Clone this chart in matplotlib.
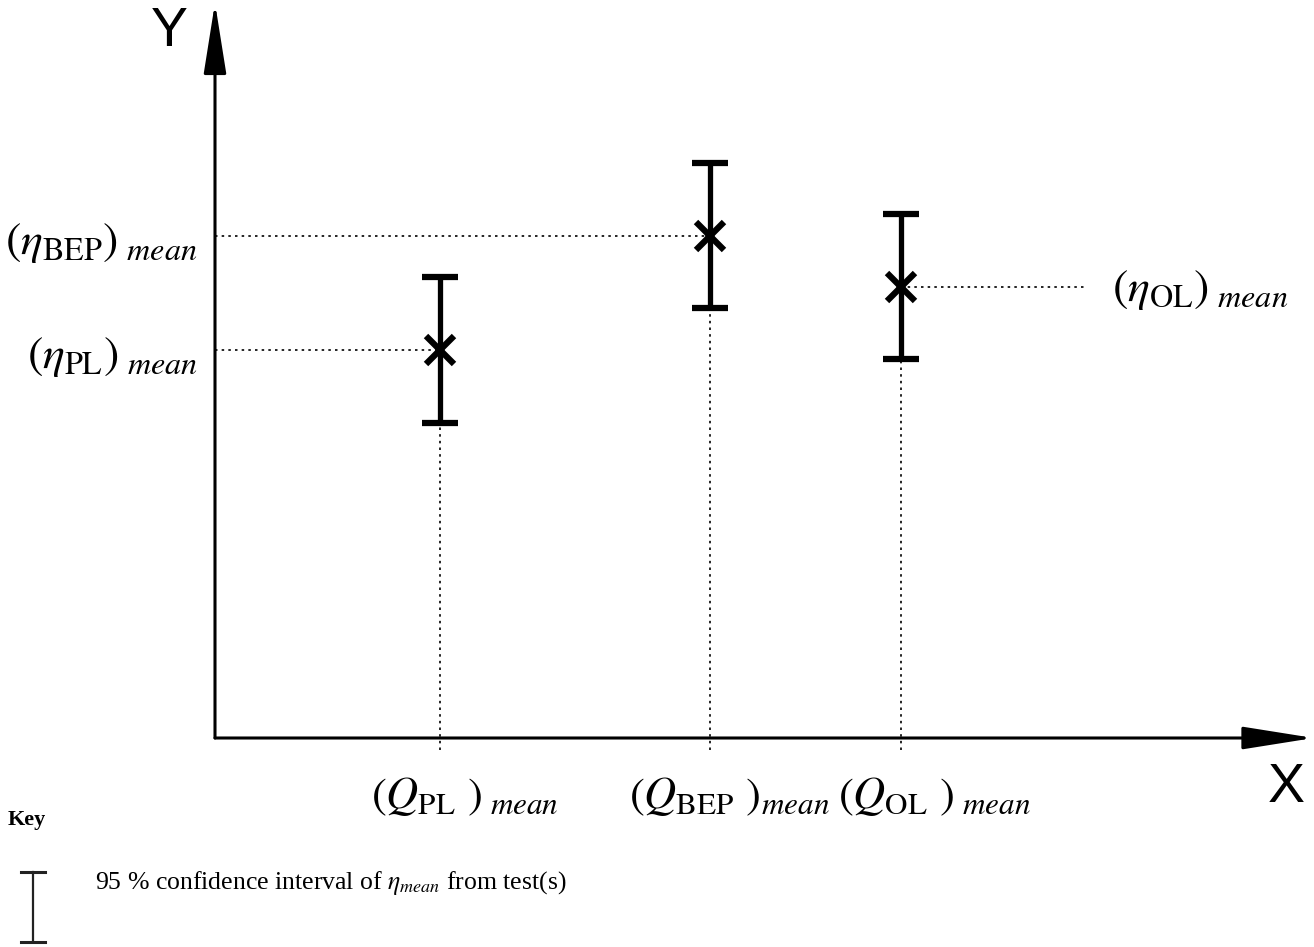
import matplotlib
matplotlib.use("Agg")
import matplotlib.pyplot as plt
from matplotlib.lines import Line2D

plt.rcParams["mathtext.fontset"] = "stix"
plt.rcParams["font.family"] = ["Liberation Serif", "DejaVu Serif"]

# Operating points (arbitrary units): part load, best efficiency point, overload
names = ["PL", "BEP", "OL"]
q_mean = [2.06, 4.54, 6.29]
eta_mean = [5.33, 6.90, 6.20]
ci_half = [1.00, 1.00, 1.00]

eta_labels = [r"$(\eta_{\mathrm{PL}})_{\ mean}$",
              r"$(\eta_{\mathrm{BEP}})_{\ mean}$",
              r"$(\eta_{\mathrm{OL}})_{\ mean}$"]
q_labels = [r"$(Q_{\mathrm{PL}}\ )_{\ mean}$",
            r"$(Q_{\mathrm{BEP}}\ )_{mean}$",
            r"$(Q_{\mathrm{OL}}\ )_{\ mean}$"]
q_label_shift = [18, 14, 24]  # points, label nudged right of its tick

fig = plt.figure(figsize=(13.14, 9.47), dpi=100)
ax = fig.add_axes([215 / 1314, 209 / 947, 1090 / 1314, 728 / 947])
ax.set_xlim(0, 10)
ax.set_ylim(0, 10)
ax.axis("off")

# axes arrows
arrow = dict(arrowstyle="-|>,head_length=2.2,head_width=0.35", mutation_scale=20,
             lw=2.2, color="black", shrinkA=0, shrinkB=0)
ax.annotate("", xy=(10.08, 0), xytext=(0, 0), arrowprops=arrow, annotation_clip=False)
ax.annotate("", xy=(0, 10.1), xytext=(0, 0), arrowprops=arrow, annotation_clip=False)
ax.text(10.0, -0.69, "X", fontsize=40, family="Liberation Sans", ha="right", va="center")
ax.text(-0.25, 9.7, "Y", fontsize=40, family="Liberation Sans", ha="right", va="center")

dot = dict(color="black", lw=1.2, linestyle=(0, (1.5, 2.5)), clip_on=False)
for i, name in enumerate(names):
    x, y = q_mean[i], eta_mean[i]
    ax.plot([x, x], [-0.16, y], **dot)
    if name == "OL":
        ax.plot([x, 8.0], [y, y], **dot)
        ax.text(8.23, y - 0.05, eta_labels[i], fontsize=33, ha="left", va="center")
    else:
        ax.plot([0, x], [y, y], **dot)
        ax.text(-0.16, y - 0.1, eta_labels[i], fontsize=33, ha="right", va="center")
    ax.errorbar(x, y, yerr=ci_half[i], fmt="x", color="black", ms=20, mew=4.5,
                elinewidth=3.8, capsize=13, capthick=3.2, clip_on=False)
    ax.annotate(q_labels[i], xy=(x, 0), xytext=(q_label_shift[i], -42),
                textcoords="offset points", fontsize=32, ha="center", va="center",
                annotation_clip=False)

# key
fig.text(8 / 1314, 1 - 820 / 947, "Key", fontsize=16, weight="bold", va="center", ha="left")
kx = 33 / 1314
fig.add_artist(Line2D([kx, kx], [1 - 872 / 947, 1 - 942 / 947], color="#222222", lw=1.6))
for yy in [872, 942]:
    fig.add_artist(Line2D([kx - 12 / 1314, kx + 12 / 1314], [1 - yy / 947, 1 - yy / 947],
                          color="#222222", lw=2.2))
fig.text(95 / 1314, 1 - 883 / 947,
         r"95 % confidence interval of $\eta_{mean}$ from test(s)",
         fontsize=18.5, va="center", ha="left")

fig.savefig("out.png", dpi=100)
